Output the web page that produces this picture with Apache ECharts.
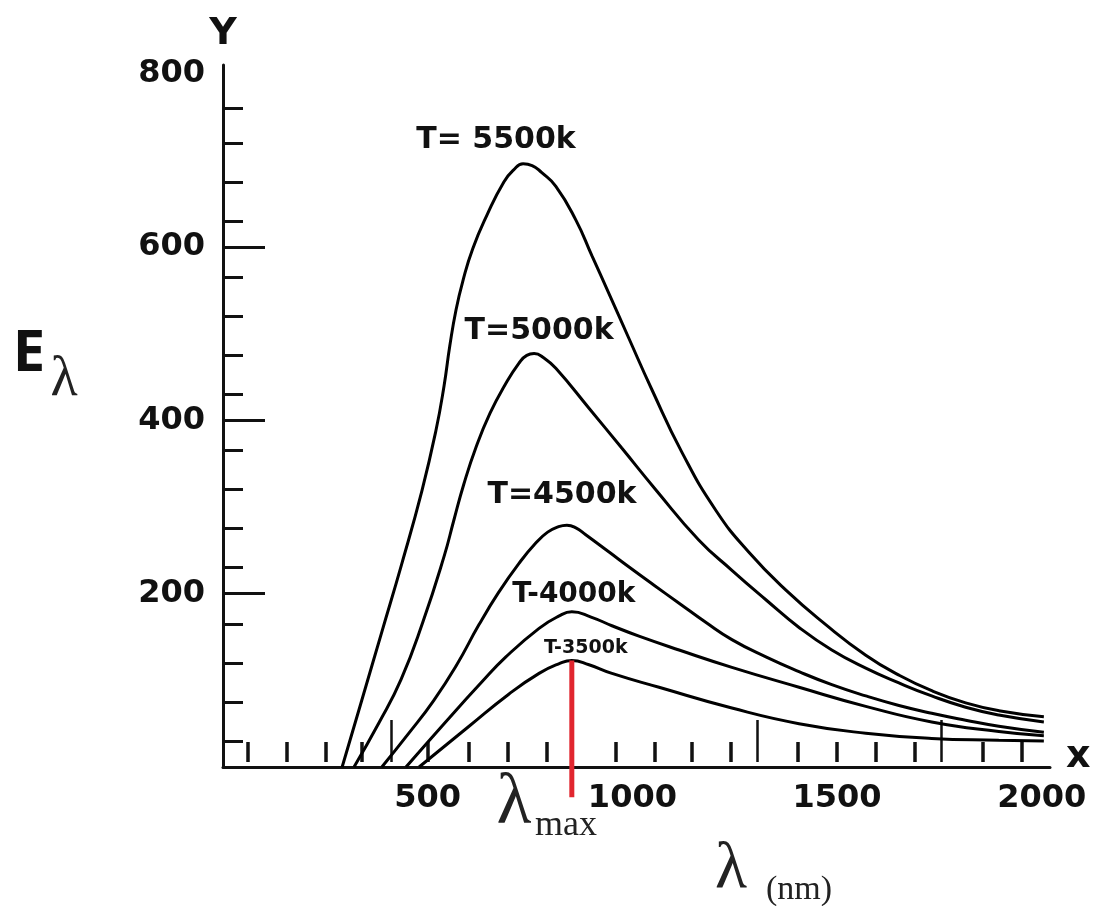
<!DOCTYPE html>
<html>
<head>
<meta charset="utf-8">
<title>Black body radiation curves</title>
<script src="https://cdn.jsdelivr.net/npm/echarts@6/dist/echarts.min.js"></script>
<style>
  html, body { margin: 0; padding: 0; background: #fff; }
  #chart { width: 1098px; height: 906px; }
</style>
</head>
<body>
<div id="chart"></div>
<script>
// curves: [wavelength (nm), E]
const t5500 = [[291, 0], [339, 77], [388, 156], [437, 235], [486, 319], [520, 388], [540, 440], [554, 486],
  [569, 527], [586, 561], [610, 598], [645, 637], [686, 675], [710, 689], [733, 696], [755, 694], [778, 686],
  [813, 670], [862, 631], [901, 590], [943, 546], [991, 495], [1048, 435], [1121, 363], [1204, 296], [1284, 248],
  [1375, 204], [1473, 164], [1570, 129], [1651, 106], [1731, 88], [1814, 74], [1895, 65], [2005, 58]];
const t5000 = [[320, 0], [381, 51], [435, 101], [488, 167], [540, 243], [564, 285], [588, 326], [618, 369],
  [652, 408], [689, 441], [723, 466], [742, 475], [760, 477], [784, 472], [813, 460], [894, 414], [974, 368],
  [1057, 320], [1162, 262], [1243, 227], [1326, 193], [1407, 161], [1487, 135], [1570, 114], [1651, 97],
  [1731, 82], [1814, 69], [1895, 60], [2005, 52]];
const t4500 = [[388, 0], [454, 39], [515, 77], [571, 118], [625, 164], [674, 202], [723, 235], [765, 259],
  [793, 271], [818, 277], [840, 279], [862, 276], [886, 268], [943, 248], [991, 231], [1052, 210], [1114, 189],
  [1179, 167], [1243, 147], [1326, 127], [1407, 110], [1487, 95], [1570, 82], [1651, 71], [1731, 62],
  [1814, 54], [1895, 47], [2005, 40]];
const t4000 = [[447, 0], [540, 50], [632, 98], [691, 127], [772, 160], [820, 174], [852, 179], [899, 173],
  [950, 163], [1016, 151], [1114, 135], [1243, 115], [1407, 92], [1570, 70], [1731, 52], [1895, 41], [2005, 36]];
const t3500 = [[479, 0], [601, 47], [698, 84], [772, 108], [820, 119], [852, 123], [894, 118], [950, 108],
  [1065, 92], [1243, 68], [1407, 50], [1570, 39], [1731, 33], [1895, 31], [2005, 30]];

const curveNames = ['T= 5500k', 'T=5000k', 'T=4500k', 'T-4000k', 'T-3500k'];
const lambdaMax = [[852, 123], [852, -35]];

const xLabels = [500, 1000, 1500, 2000];
const xMinorTicks = [60, 155, 250, 340, 500, 600, 695, 790, 960, 1055, 1145, 1240, 1405, 1500, 1595, 1690, 1855, 1950];
const xMajorTicks = [410, 1305, 1755];
const yLabels = [200, 400, 600, 800];
const yMajorTicks = [200, 400, 600];
const yMinorTicks = [30, 75, 120, 165, 230, 275, 320, 365, 430, 475, 520, 565, 630, 675, 720, 760];

const black = '#111';
const bold = { fontFamily: 'DejaVu Sans', fontWeight: 'bold', color: black };

function tickAxis(dim, ticks, len, width, offset) {
  return {
    type: 'value',
    min: 0,
    max: dim === 'x' ? 2020 : 810,
    position: dim === 'x' ? 'bottom' : 'left',
    offset: offset,
    axisLine: { show: false },
    axisLabel: { show: false },
    splitLine: { show: false },
    axisTick: { show: true, inside: true, length: len, customValues: ticks, lineStyle: { color: black, width: width } }
  };
}

function curve(data, i, coord, size) {
  return {
    name: curveNames[i],
    type: 'line',
    data: data,
    smooth: 0.5,
    symbol: 'none',
    lineStyle: { color: '#000', width: 3 },
    markPoint: {
      symbol: 'rect',
      symbolSize: 1,
      itemStyle: { color: 'rgba(0,0,0,0)' },
      label: { show: true, position: 'inside', formatter: curveNames[i], fontSize: size, ...bold },
      data: [{ coord: coord }]
    }
  };
}

// serif lambda text pieces placed around the axes
function serif(text, x, y, size) {
  return {
    type: 'text', x: x, y: y,
    style: { text: text, font: size + 'px "Liberation Serif"', fill: '#222', align: 'center', verticalAlign: 'middle', textAlign: 'center', textVerticalAlign: 'middle' }
  };
}

const chart = echarts.init(document.getElementById('chart'));
chart.setOption({
  animation: false,
  backgroundColor: '#fff',
  grid: { left: 223, top: 65, right: 48, bottom: 139, outerBoundsMode: 'none' },
  xAxis: [
    {
      type: 'value',
      min: 0,
      max: 2020,
      position: 'bottom',
      axisLine: { show: true, onZero: false, lineStyle: { color: black, width: 3 } },
      axisTick: { show: false },
      splitLine: { show: false },
      axisLabel: { customValues: xLabels, margin: 16, fontSize: 32, formatter: v => String(v), ...bold },
      name: 'x',
      nameLocation: 'end',
      nameGap: 16,
      nameTextStyle: { fontSize: 38, ...bold, verticalAlign: 'bottom', lineHeight: 20 }
    },
    tickAxis('x', xMinorTicks, 20, 3.5, -5),
    tickAxis('x', xMajorTicks, 42, 2.5, -5)
  ],
  yAxis: [
    {
      type: 'value',
      min: 0,
      max: 810,
      position: 'left',
      axisLine: { show: true, onZero: false, lineStyle: { color: black, width: 3 } },
      axisTick: { show: true, inside: true, length: 42, customValues: yMajorTicks, lineStyle: { color: black, width: 3 } },
      splitLine: { show: false },
      axisLabel: { customValues: yLabels, margin: 18, fontSize: 32, formatter: v => String(v), ...bold },
      name: 'Y',
      nameLocation: 'end',
      nameGap: 12,
      nameTextStyle: { fontSize: 38, ...bold }
    },
    tickAxis('y', yMinorTicks, 20, 3, 0)
  ],
  series: [
    curve(t5500, 0, [667, 723], 30),
    curve(t5000, 1, [772, 503], 30),
    curve(t4500, 2, [828, 314], 30),
    curve(t4000, 3, [857, 199], 28),
    curve(t3500, 4, [886, 137], 19),
    {
      name: 'lambda max',
      type: 'line',
      data: lambdaMax,
      clip: false,
      symbol: 'none',
      lineStyle: { color: '#e1262f', width: 5 }
    }
  ],
  graphic: [
    { type: 'text', x: 29, y: 354, style: { text: 'E', font: 'bold 58px "Open Sans"', fill: black, align: 'center', verticalAlign: 'middle', textAlign: 'center', textVerticalAlign: 'middle' } },
    serif('λ', 64, 380, 56),
    serif('λ', 514, 804, 72),
    serif('max', 566, 826, 36),
    serif('λ', 731, 870, 66),
    serif('(nm)', 799, 890, 34)
  ]
});
</script>
</body>
</html>
